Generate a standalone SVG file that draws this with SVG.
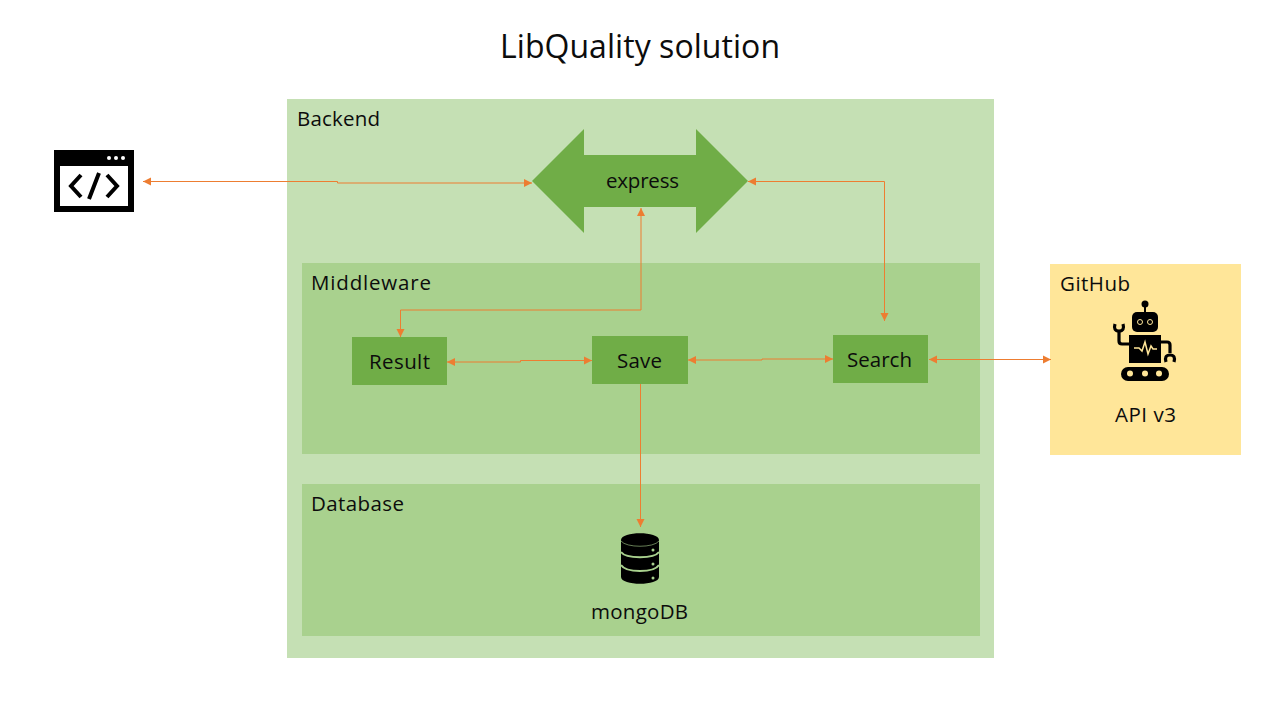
<svg xmlns="http://www.w3.org/2000/svg" width="1280" height="720" viewBox="0 0 1280 720">
<style>
text{font-family:"Open Sans","Noto Sans","Liberation Sans",sans-serif;fill:#0c0c0c;font-size:20.500px}
.mid{text-anchor:middle}
.box{fill:#70ad47}
.panel{fill:#a9d18e}
.conn{fill:none;stroke:#ed7d31;stroke-width:1;marker-end:url(#arr)}
.both{marker-start:url(#arr)}
.ic{fill:#000}
.ln{fill:none;stroke:#ffe699;stroke-width:1.5}
</style>
<defs>
<marker id="arr" markerUnits="userSpaceOnUse" markerWidth="10" markerHeight="10" refX="9" refY="4.5" orient="auto-start-reverse"><path d="M1 0.5L9 4.5L1 8.5Z" fill="#ed7d31"/></marker>
</defs>
<rect width="1280" height="720" fill="#fff"/>
<text id="title" class="mid" x="640" y="58" textLength="280" style="font-size:32px">LibQuality solution</text>
<g id="backend"><rect x="287" y="99" width="707" height="559" fill="#c5e0b4"/><text x="297" y="126" textLength="83">Backend</text></g>
<g id="middleware"><rect class="panel" x="302" y="263" width="678" height="191"/><text x="311" y="290" textLength="120">Middleware</text></g>
<g id="database"><rect class="panel" x="302" y="484" width="678" height="152"/><text x="311" y="511" textLength="93">Database</text></g>
<g id="github"><rect x="1050" y="264" width="191" height="191" fill="#ffe699"/><text x="1060" y="291" textLength="70">GitHub</text></g>
<g id="client">
<rect class="ic" x="54" y="150" width="80" height="62"/><rect x="60" y="166" width="68" height="40" fill="#fff"/>
<circle cx="109" cy="158" r="2" fill="#fff"/><circle cx="116" cy="158" r="2" fill="#fff"/><circle cx="123" cy="158" r="2" fill="#fff"/>
<path d="M81 175L71 186L81 197M107 175L117 186L107 197M99 173L89 199" fill="none" stroke="#000" stroke-width="4"/>
</g>
<g id="express"><path class="box" d="M532 181L584 129V155H696V129L748 181L696 233V207H584V233Z"/><text class="mid" x="642.500" y="188" textLength="73">express</text></g>
<g id="result"><rect class="box" x="352" y="337" width="95" height="48"/><text class="mid" x="399.500" y="369" textLength="61">Result</text></g>
<g id="save"><rect class="box" x="592" y="336" width="96" height="48"/><text class="mid" x="639.500" y="368" textLength="45">Save</text></g>
<g id="search"><rect class="box" x="833" y="335" width="95" height="48"/><text class="mid" x="879.500" y="367" textLength="65">Search</text></g>
<g id="robot">
<circle class="ic" cx="1145" cy="304" r="3.500"/><rect class="ic" x="1144" y="304" width="2" height="9"/>
<rect class="ic" x="1132" y="312" width="26" height="20" rx="5"/>
<circle cx="1140" cy="322" r="2.500" fill="#000" stroke="#ffe699"/><circle cx="1150" cy="322" r="2.500" fill="#000" stroke="#ffe699"/>
<rect class="ic" x="1129" y="335" width="32" height="28"/>
<path class="ln" d="M1134 348H1139L1142 351L1145 342L1148 354L1151 346L1153 349H1157"/>
<path d="M1129 344H1122Q1119 344 1119 341V331M1115 324Q1113 331 1119 331Q1125 331 1123 324M1161 342H1167Q1170 342 1170 345V353M1166 362Q1164 355 1170 355Q1176 355 1174 362" fill="none" stroke="#000" stroke-width="3.200"/>
<rect class="ic" x="1121" y="367" width="48" height="14" rx="7"/>
<circle cx="1130" cy="373.500" r="3" fill="#ffe699"/><circle cx="1145" cy="373.500" r="3" fill="#ffe699"/><circle cx="1159" cy="373.500" r="3" fill="#ffe699"/>
<text class="mid" x="1145.500" y="422" textLength="61">API v3</text>
</g>
<g id="mongodb">
<path class="ic" d="M621 540C621 531 659 531 659 540V577C659 586 621 586 621 577Z"/>
<path d="M621 552C626 559 654 559 659 552M621 565C626 573 654 573 659 565" fill="none" stroke="#a9d18e" stroke-width="2"/>
<path d="M621 541C626 548 654 548 659 541" fill="none" stroke="#a9d18e" stroke-width=".6"/>
<circle cx="653" cy="550" r="1.500" fill="#a9d18e"/><circle cx="653" cy="564" r="1.500" fill="#a9d18e"/><circle cx="653" cy="578" r="1.500" fill="#a9d18e"/>
<text class="mid" x="639.500" y="619" textLength="97">mongoDB</text>
</g>
<g id="connectors">
<path class="conn both" d="M143 181.500H337.500V183H532"/>
<path class="conn both" d="M748 181.500H884.500V321"/>
<path class="conn both" d="M641 208V310H400.500V337"/>
<path class="conn both" d="M447 362H520.500V360.500H592"/>
<path class="conn both" d="M688 360H762V359H833"/>
<path class="conn both" d="M929 359.500H1051"/>
<path class="conn" d="M640.500 384V527"/>
</g>
</svg>
